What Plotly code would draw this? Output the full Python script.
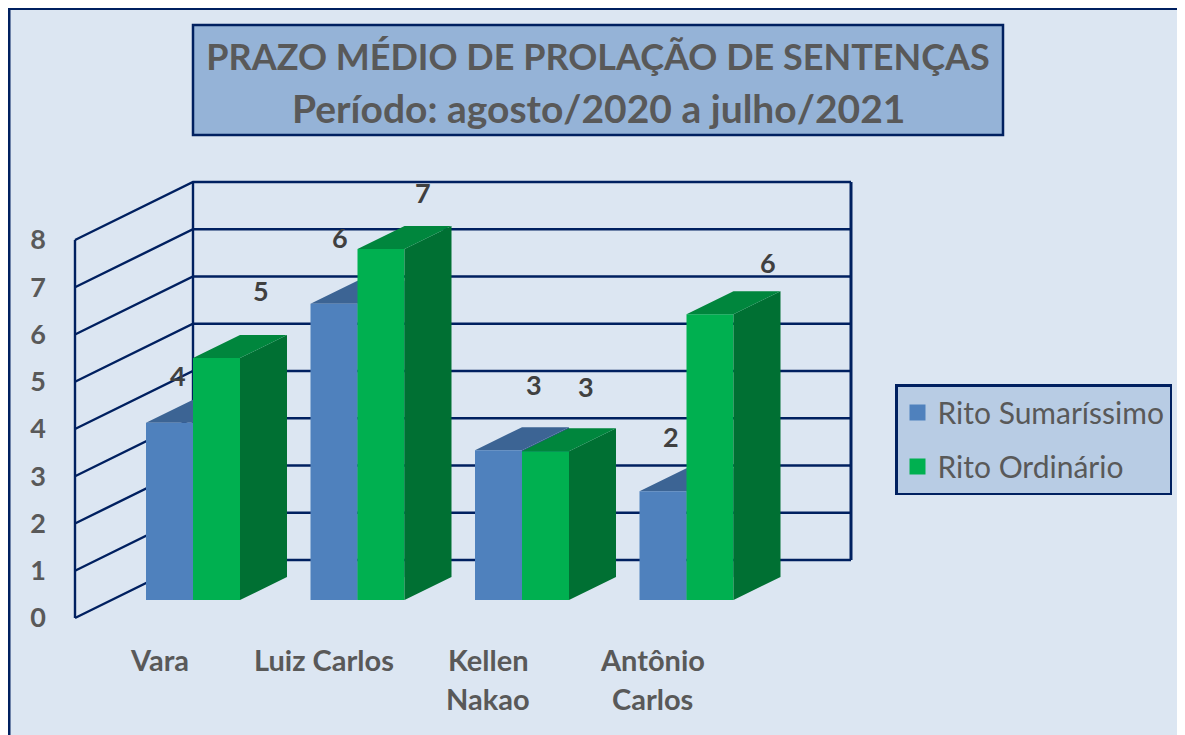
import plotly.graph_objects as go

# ---------- data ----------
categories = ["Vara", "Luiz Carlos", "Kellen<br>Nakao", "Antônio<br>Carlos"]
rito_sumarissimo = [3.75, 6.27, 3.17, 2.30]
rito_ordinario = [5.12, 7.43, 3.15, 6.05]
tick_values = [0, 1, 2, 3, 4, 5, 6, 7, 8]
title_text = "PRAZO MÉDIO DE PROLAÇÃO DE SENTENÇAS"
subtitle_text = "Período: agosto/2020 a julho/2021"
series_names = ["Rito Sumaríssimo", "Rito Ordinário"]

# ---------- layout constants (page pixels) ----------
OFF = 8
W, H = 1177, 727
GROUP_PX, UNIT_PX = 164.5, 47.25
X0_PX, BASE_PX, AXIS0_PX = 193, 600, 618
NAVY, TEXT = "#002060", "#595959"
FONT = "Lato"
BLUE, BLUE_TOP, BLUE_SIDE = "#4f81bd", "#3c6494", "#2f5a88"
GREEN, GREEN_TOP, GREEN_SIDE = "#00b050", "#00863d", "#007033"
BAR_W = 47 / GROUP_PX
DX, DY = 47 / GROUP_PX, 23 / UNIT_PX
# pixel shifts of the hand-placed value labels from the front-top centre of each bar
SHIFT_S = [(8, 47), (6, 66), (35, 66), (8, 55)]
SHIFT_O = [(44, 68), (42, 56), (40, 65), (58, 52)]


def yrange(zero_px):
    return [(zero_px - (OFF + H)) / UNIT_PX, (zero_px - OFF) / UNIT_PX]


xr = [(OFF - X0_PX) / GROUP_PX, (OFF + W - X0_PX) / GROUP_PX]
y_bar = lambda px: (BASE_PX - px) / UNIT_PX


def faces(values, left_offset):
    top_x, top_y, side_x, side_y = [], [], [], []
    for i, v in enumerate(values):
        a = i + left_offset
        b = a + BAR_W
        top_x += [a, b, b + DX, a + DX, a, None]
        top_y += [v, v, v + DY, v + DY, v, None]
        side_x += [b, b + DX, b + DX, b, b, None]
        side_y += [0, DY, v + DY, v, 0, None]
    return top_x, top_y, side_x, side_y


def poly(x, y, color, yaxis):
    return go.Scatter(x=x, y=y, mode="lines", fill="toself", fillcolor=color,
                      line=dict(width=0, color=color), yaxis=yaxis,
                      showlegend=False, hoverinfo="skip")


fig = go.Figure()

# walls
depth_x = 118 / GROUP_PX
depth_y = 58 / UNIT_PX
right = 4.0
wx, wy = [], []
for t in tick_values:
    wx += [-depth_x, 0, right, None]
    wy += [t, t + depth_y, t + depth_y, None]
wx += [-depth_x, -depth_x, None, 0, 0]
wy += [tick_values[0], tick_values[-1], None, tick_values[0] + depth_y, tick_values[-1] + depth_y]
fig.add_trace(go.Scatter(x=wx, y=wy, mode="lines", line=dict(color=NAVY, width=2.4),
                         yaxis="y", showlegend=False, hoverinfo="skip"))
fig.add_trace(go.Scatter(x=[right, right], y=[tick_values[0] + depth_y, tick_values[-1] + depth_y],
                         mode="lines", line=dict(color=NAVY, width=3),
                         yaxis="y", showlegend=False, hoverinfo="skip"))

# blue faces, behind the bars
tx, ty, sx, sy = faces(rito_sumarissimo, -BAR_W)
fig.add_trace(poly(sx, sy, BLUE_SIDE, "y2"))
fig.add_trace(poly(tx, ty, BLUE_TOP, "y2"))

# front faces
xs = list(range(len(categories)))
fig.add_trace(go.Bar(x=xs, y=rito_sumarissimo, name=series_names[0], marker=dict(color=BLUE, line=dict(width=0)),
                     yaxis="y3", legendgroup="a", showlegend=False, hoverinfo="skip"))
fig.add_trace(go.Bar(x=xs, y=rito_ordinario, name=series_names[1], marker=dict(color=GREEN, line=dict(width=0)),
                     yaxis="y3", legendgroup="b", showlegend=False, hoverinfo="skip"))

# green faces
tx, ty, sx, sy = faces(rito_ordinario, 0)
fig.add_trace(poly(sx, sy, GREEN_SIDE, "y3"))
fig.add_trace(poly(tx, ty, GREEN_TOP, "y3"))

# legend entries with the larger square swatch of the reference
for name, color, group in zip(series_names, [BLUE, GREEN], ["a", "b"]):
    fig.add_trace(go.Scatter(x=[None], y=[None], mode="markers", name=name, legendgroup=group, yaxis="y3",
                             marker=dict(symbol="square", size=18, color=color), hoverinfo="skip"))

ann = []
# value labels
vfont = dict(family=FONT, size=27, color="#404040", weight="bold")
for i, (v, (dx, dy)) in enumerate(zip(rito_sumarissimo, SHIFT_S)):
    ann.append(dict(x=i - BAR_W / 2, y=v, xref="x", yref="y3", text=f"{v:.0f}", showarrow=False,
                    xshift=dx, yshift=dy, font=vfont))
for i, (v, (dx, dy)) in enumerate(zip(rito_ordinario, SHIFT_O)):
    ann.append(dict(x=i + BAR_W / 2, y=v, xref="x", yref="y3", text=f"{v:.0f}", showarrow=False,
                    xshift=dx, yshift=dy, font=vfont))
# category labels, line by line for the wide line pitch
for i, c in enumerate(categories):
    for j, line in enumerate(c.split("<br>")):
        ann.append(dict(x=i, y=y_bar(659 + 39 * j), xref="x", yref="y3", text=line, showarrow=False,
                        xshift=-34, yanchor="middle",
                        font=dict(family=FONT, size=29, color=TEXT, weight="bold")))

px = lambda p: (p - OFF) / W
py = lambda p: 1 - (p - OFF) / H

# second title line
ann.append(dict(xref="paper", yref="paper", x=px(598), y=py(108), yanchor="middle", xanchor="center",
                text=subtitle_text, showarrow=False,
                font=dict(family=FONT, size=39, color=TEXT, weight="bold")))

shapes = [
    dict(type="rect", xref="paper", yref="paper", x0=0, x1=px(10.5), y0=0, y1=1,
         fillcolor=NAVY, line=dict(width=0), layer="below"),
    dict(type="rect", xref="paper", yref="paper", x0=0, x1=1, y0=py(10), y1=1,
         fillcolor=NAVY, line=dict(width=0), layer="below"),
    dict(type="rect", xref="paper", yref="paper", x0=px(193), x1=px(1003), y0=py(135), y1=py(25),
         fillcolor="#95b3d7", line=dict(color=NAVY, width=2.5), layer="below"),
]

axis_off = dict(visible=False, fixedrange=True)
fig.update_layout(
    width=W, height=H, margin=dict(l=0, r=0, t=0, b=0),
    paper_bgcolor="#dce6f2", plot_bgcolor="rgba(0,0,0,0)",
    barmode="group", bargap=1 - 2 * BAR_W, bargroupgap=0,
    title=dict(text=title_text, x=px(598), xanchor="center", y=py(57), yanchor="middle",
               font=dict(family=FONT, size=36, color=TEXT, weight="bold")),
    xaxis=dict(range=xr, **axis_off),
    yaxis=dict(range=yrange(AXIS0_PX), tickmode="array", tickvals=tick_values,
               ticktext=[str(t) for t in tick_values], showgrid=False, zeroline=False, showline=False,
               anchor="free", position=px(46), side="left", ticks="",
               tickfont=dict(family=FONT, size=27, color=TEXT, weight="bold"), fixedrange=True),
    yaxis2=dict(range=yrange(BASE_PX), overlaying="y", **axis_off),
    yaxis3=dict(range=yrange(BASE_PX), overlaying="y", **axis_off),
    legend=dict(x=px(895), y=py(384), xanchor="left", yanchor="top", itemsizing="trace",
                bgcolor="#b8cce4", bordercolor=NAVY, borderwidth=2.5,
                font=dict(family=FONT, size=30, color=TEXT), tracegroupgap=12, traceorder="grouped"),
    shapes=shapes, annotations=ann,
)
fig.write_html("out.html")
